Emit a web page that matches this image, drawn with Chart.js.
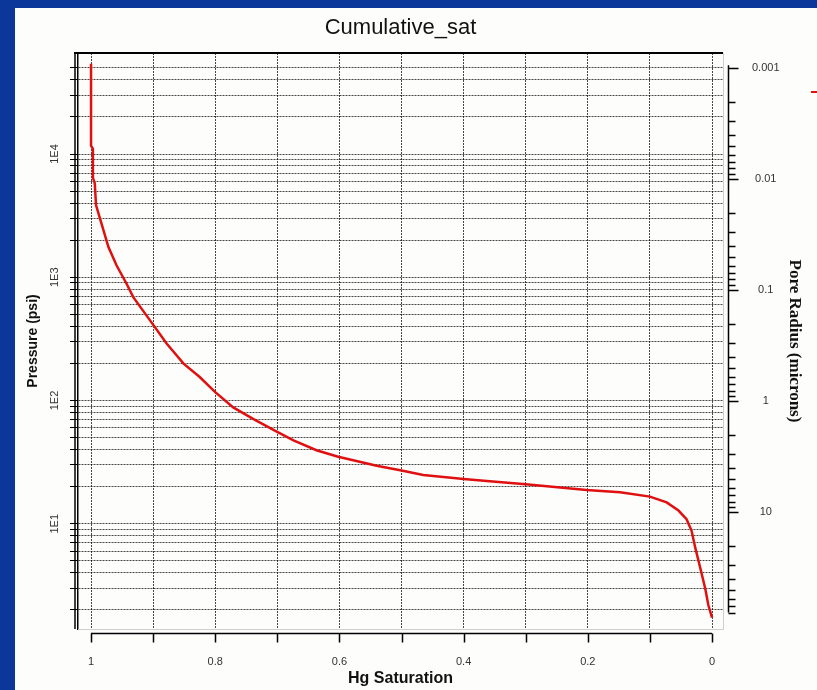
<!DOCTYPE html>
<html>
<head>
<meta charset="utf-8">
<title>Cumulative_sat</title>
<script src="https://cdn.jsdelivr.net/npm/chart.js@4.4.1/dist/chart.umd.min.js"></script>
<style>
  html, body { margin: 0; padding: 0; }
  body { width: 817px; height: 690px; background: #0a3799; position: relative; overflow: hidden; }
  #panel { position: absolute; left: 15px; top: 8px; width: 802px; height: 682px; background: #fdfdfc; }
</style>
</head>
<body>
<div id="panel"><canvas id="satChart"></canvas></div>
<script>
// ==========================================
// Hg injection curve: saturation vs pressure
// ==========================================
const SATURATION = [1.000, 1.000, 0.997, 0.997, 0.994, 0.992, 0.981, 0.972, 0.959, 0.943,
                    0.932, 0.905, 0.878, 0.851, 0.825, 0.800, 0.771, 0.739, 0.701, 0.674,
                    0.637, 0.602, 0.540, 0.500, 0.465, 0.400, 0.358, 0.300, 0.202, 0.148,
                    0.100, 0.073, 0.054, 0.041, 0.033, 0.027, 0.019, 0.011, 0.006, 0.000];
const PRESSURE   = [54000, 11700, 11000, 6400, 5800, 3850, 2500, 1760, 1250, 890,
                    690, 447, 289, 199, 155, 117, 88, 71, 56, 47.5,
                    39.5, 35, 29.6, 27, 24.9, 23.1, 22.1, 20.9, 18.8, 18.0,
                    16.6, 14.9, 12.8, 10.9, 8.8, 6.4, 4.4, 3.0, 2.2, 1.73];

// axis limits
const SAT_RANGE = [-0.0177, 1.021];
const PRESSURE_RANGE = [1.4, 66000];
const RADIUS_RANGE = [0.00073, 112.5];

// tick labels
const SAT_TICKS = [0, 0.1, 0.2, 0.3, 0.4, 0.5, 0.6, 0.7, 0.8, 0.9, 1];
const SAT_LABEL_VALUES = [1, 0.8, 0.6, 0.4, 0.2, 0];
const SAT_LABELS = ['1', '0.8', '0.6', '0.4', '0.2', '0'];
const PRESSURE_DECADES = [10, 100, 1000, 10000];
const PRESSURE_LABELS = ['1E1', '1E2', '1E3', '1E4'];
const RADIUS_DECADES = [0.001, 0.01, 0.1, 1, 10];
const RADIUS_LABELS = ['0.001', '0.01', '0.1', '1', '10'];

// 1..9 x 10^e tick positions between lo and hi
function logTicks(fromExp, toExp, lo, hi) {
    const out = [];
    for (let e = fromExp; e <= toExp; e++) {
        for (let k = 1; k <= 9; k++) {
            const v = Number((k * Math.pow(10, e)).toPrecision(3));
            if (v >= lo && v <= hi) out.push(v);
        }
    }
    return out;
}
const PRESSURE_TICKS = logTicks(0, 4, 2, 50000);
const RADIUS_TICKS = logTicks(-3, 1, 0.001, 80);

const near = (a, b) => Math.abs(a - b) <= 1e-6 * Math.max(Math.abs(a), Math.abs(b), 1e-9);
const labelFor = (value, values, labels) => {
    const i = values.findIndex(v => near(v, value));
    return i < 0 ? '' : labels[i];
};

const FONT = "'Liberation Sans', Arial, sans-serif";
const GRID_COLOR = 'rgba(0,0,0,0.72)';

// frame edges plus the two detached axes (saturation below, pore radius right)
const axesDecor = {
    id: 'axesDecor',
    afterDraw(chart) {
        const { ctx, chartArea: a, scales: { x, y2 } } = chart;
        ctx.save();

        ctx.strokeStyle = '#cfcfcf';
        ctx.lineWidth = 1;
        ctx.beginPath();
        ctx.moveTo(a.right + 0.5, a.top);
        ctx.lineTo(a.right + 0.5, a.bottom + 0.5);
        ctx.lineTo(a.left, a.bottom + 0.5);
        ctx.stroke();

        ctx.strokeStyle = '#000';
        ctx.lineWidth = 2;
        ctx.beginPath();
        ctx.moveTo(a.left - 4, a.top);
        ctx.lineTo(a.right, a.top);
        ctx.stroke();

        ctx.lineWidth = 1.5;
        ctx.beginPath();
        ctx.moveTo(a.left - 3, a.top);
        ctx.lineTo(a.left - 3, a.bottom);
        ctx.stroke();

        // saturation axis
        const yAx = a.bottom + 4.5;
        ctx.lineWidth = 1.5;
        ctx.beginPath();
        ctx.moveTo(x.getPixelForValue(1), yAx);
        ctx.lineTo(x.getPixelForValue(0), yAx);
        x.ticks.forEach(t => {
            const px = Math.round(x.getPixelForValue(t.value)) + 0.5;
            ctx.moveTo(px, yAx);
            ctx.lineTo(px, yAx + 9);
        });
        ctx.stroke();

        // pore radius axis
        const xAx = a.right + 5.5;
        const last = y2.ticks[y2.ticks.length - 1].value;
        ctx.beginPath();
        ctx.moveTo(xAx, y2.getPixelForValue(0.001) - 3);
        ctx.lineTo(xAx, y2.getPixelForValue(last));
        y2.ticks.forEach(t => {
            const py = Math.round(y2.getPixelForValue(t.value)) + 0.5;
            const len = labelFor(t.value, RADIUS_DECADES, RADIUS_LABELS) ? 10 : 7;
            ctx.moveTo(xAx, py);
            ctx.lineTo(xAx + len, py);
        });
        ctx.stroke();

        // clipped legend sample at the right edge
        ctx.strokeStyle = '#e01010';
        ctx.lineWidth = 2;
        ctx.beginPath();
        ctx.moveTo(chart.width - 6, 84);
        ctx.lineTo(chart.width, 84);
        ctx.stroke();

        ctx.restore();
    }
};

new Chart(document.getElementById('satChart'), {
    type: 'line',
    data: {
        datasets: [{
            label: 'Cumulative_sat',
            data: SATURATION.map((s, i) => ({ x: s, y: PRESSURE[i] })),
            borderColor: '#e01010',
            borderWidth: 2.5,
            pointRadius: 0,
            tension: 0,
            fill: false,
            xAxisID: 'x',
            yAxisID: 'y'
        }]
    },
    options: {
        responsive: true,
        maintainAspectRatio: false,
        animation: false,
        layout: { padding: 0 },
        plugins: {
            legend: { display: false },
            tooltip: { enabled: false },
            title: {
                display: true,
                text: 'Cumulative_sat',
                fullSize: false,
                color: '#111',
                font: { family: FONT, size: 22, weight: 'normal' },
                padding: { top: 7, bottom: 11.6 }
            }
        },
        scales: {
            x: {
                type: 'linear',
                reverse: true,
                min: SAT_RANGE[0],
                max: SAT_RANGE[1],
                afterBuildTicks: s => { s.ticks = SAT_TICKS.map(v => ({ value: v })); },
                afterFit: s => { s.height = 61; },
                grid: { color: GRID_COLOR, lineWidth: 1, drawTicks: false },
                border: { display: false, dash: [2, 1] },
                ticks: {
                    autoSkip: false, maxRotation: 0, padding: 26, color: '#333',
                    font: { family: FONT, size: 11 },
                    callback: v => labelFor(v, SAT_LABEL_VALUES, SAT_LABELS)
                },
                title: {
                    display: true, text: 'Hg Saturation', color: '#111',
                    font: { family: "'Liberation Sans Narrow', " + FONT, size: 16, weight: 'bold' },
                    padding: { top: 0, bottom: 2 }
                }
            },
            y: {
                type: 'logarithmic',
                position: 'left',
                min: PRESSURE_RANGE[0],
                max: PRESSURE_RANGE[1],
                afterBuildTicks: s => { s.ticks = PRESSURE_TICKS.map(v => ({ value: v })); },
                afterFit: s => { s.width = 63; },
                grid: {
                    color: GRID_COLOR, lineWidth: 1, drawTicks: true, tickLength: 8,
                    tickColor: '#000', tickWidth: 1, tickBorderDash: []
                },
                border: { display: true, color: '#000', width: 1.5, dash: [2, 1] },
                ticks: {
                    autoSkip: false, minRotation: 90, maxRotation: 90, crossAlign: 'center',
                    padding: 5, color: '#333', font: { family: FONT, size: 11 },
                    callback: v => labelFor(v, PRESSURE_DECADES, PRESSURE_LABELS)
                },
                title: {
                    display: true, text: 'Pressure (psi)', color: '#111',
                    font: { family: FONT, size: 14, weight: 'bold' },
                    padding: { top: 10, bottom: 0 }
                }
            },
            y2: {
                type: 'logarithmic',
                position: 'right',
                reverse: true,
                min: RADIUS_RANGE[0],
                max: RADIUS_RANGE[1],
                afterBuildTicks: s => { s.ticks = RADIUS_TICKS.map(v => ({ value: v })); },
                afterFit: s => { s.width = 94; },
                grid: { drawOnChartArea: false, drawTicks: false },
                border: { display: false },
                ticks: {
                    autoSkip: false, crossAlign: 'center', padding: 29, color: '#333',
                    font: { family: FONT, size: 11 },
                    callback: v => labelFor(v, RADIUS_DECADES, RADIUS_LABELS)
                },
                title: {
                    display: true, text: 'Pore Radius (microns)', color: '#111',
                    font: { family: "'Liberation Serif', 'Times New Roman', serif", size: 17, weight: 'bold' },
                    padding: { top: 12, bottom: 0 }
                }
            }
        }
    },
    plugins: [axesDecor]
});
</script>
</body>
</html>
